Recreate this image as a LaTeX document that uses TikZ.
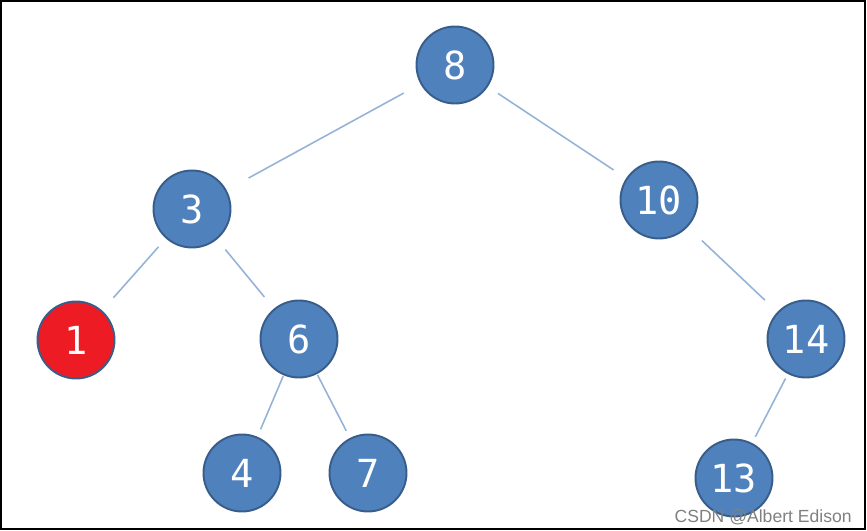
\documentclass[tikz,border=0pt]{standalone}
\usepackage{fontspec}
\newfontfamily\keyfont{DejaVu Sans Mono}
\newfontfamily\markfont{Liberation Sans}
\usetikzlibrary{positioning}
\definecolor{nodeblue}{HTML}{4F81BD}
\definecolor{nodeline}{HTML}{385D8A}
\definecolor{nodered}{HTML}{ED1C24}
\definecolor{linkblue}{HTML}{95B3D7}

\begin{document}
\begin{tikzpicture}[x=0.02cm,y=-0.02cm,
  key/.style={circle,fill=nodeblue,draw=nodeline,line width=1.1pt,
    minimum size=1.54cm,inner sep=0pt,text=white,
    font=\keyfont\fontsize{22}{22}\selectfont},
  link/.style={linkblue,line width=0.9pt}]
  \useasboundingbox (0,0) rectangle (867,531);
  % frame
  \draw[line width=0.6pt] (1,1) rectangle (865,529);
  % keys
  \node[key] (k8)  at (455,65)  {8};
  \node[key] (k3)  at (192,209) {3};
  \node[key] (k10) at (659,200) {10};
  \node[key,fill=nodered] (k1) at (76,340) {1};
  \node[key] (k6)  at (299,339) {6};
  \node[key] (k14) at (806,339) {14};
  \node[key] (k4)  at (242,473) {4};
  \node[key] (k7)  at (368,473) {7};
  \node[key] (k13) at (734,478) {13};
  % links
  \draw[link,shorten <=0.38cm,shorten >=0.5cm]  (k8) -- (k3);
  \draw[link,shorten <=0.24cm,shorten >=0.3cm]  (k8) -- (k10);
  \draw[link,shorten <=0.22cm,shorten >=0.34cm] (k3) -- (k1);
  \draw[link,shorten <=0.26cm,shorten >=0.3cm]  (k3) -- (k6);
  \draw[link,shorten <=0.39cm,shorten >=0.34cm] (k10) -- (k14);
  \draw[link,shorten <=0.02cm,shorten >=0.16cm] (k6) -- (k4);
  \draw[link,shorten <=0.02cm,shorten >=0.16cm] (k6) -- (k7);
  \draw[link,shorten <=0.1cm,shorten >=0.14cm]  (k14) -- (k13);
  % watermark
  \node[anchor=base east,inner sep=0pt,text=gray,
    font=\markfont\fontsize{10}{10}\selectfont] (mark) at (852,522)
    {CSDN @Albert Edison};
\end{tikzpicture}
\end{document}
